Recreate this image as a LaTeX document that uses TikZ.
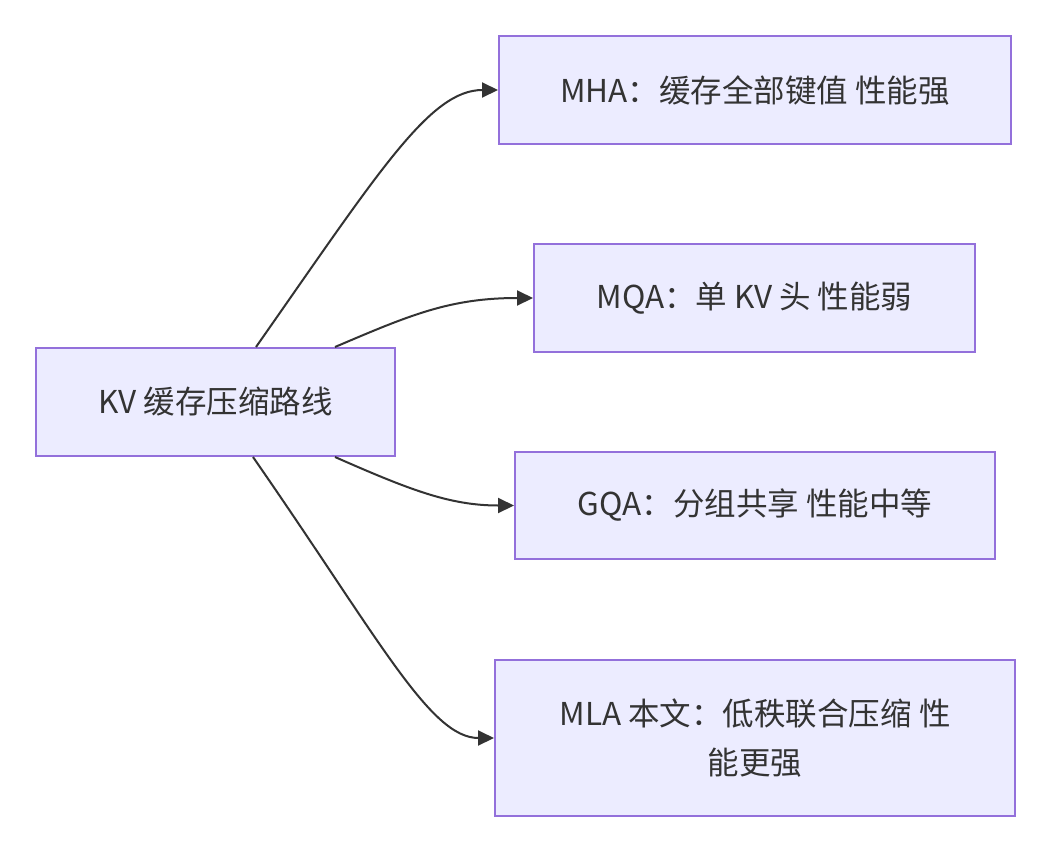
\documentclass[tikz,border=0pt]{standalone}
\usepackage{fontspec}
\setmainfont{Noto Sans CJK SC}
\usetikzlibrary{arrows.meta}
\definecolor{boxfill}{HTML}{ECECFF}
\definecolor{boxline}{HTML}{9370DB}
\definecolor{ink}{HTML}{333333}
\begin{document}
\begin{tikzpicture}[x=1pt,y=-1pt,
  box/.style={draw=boxline,fill=boxfill,line width=2pt,rectangle,inner sep=0pt,
    text=ink,font=\fontsize{31.5}{49}\selectfont,align=center},
  conn/.style={draw=ink,line width=2pt,-{Triangle[length=16pt,width=15pt]}}]
\useasboundingbox (0,0) rectangle (1052,852);
\fill[white] (0,0) rectangle (1052,852);
\node[box,minimum width=359pt,minimum height=108pt] (src) at (215.5,402) {KV 缓存压缩路线};
\node[box,minimum width=512pt,minimum height=108pt] (mha) at (755,90) {MHA：缓存全部键值 性能强};
\node[box,minimum width=441pt,minimum height=108pt] (mqa) at (754.5,298) {MQA：单 KV 头 性能弱};
\node[box,minimum width=480pt,minimum height=107pt] (gqa) at (755,505.5) {GQA：分组共享 性能中等};
\node[box,minimum width=520pt,minimum height=156pt] (mla) at (755,738) {MLA 本文：低秩联合压缩 性\\能更强};
\draw[conn] ([xshift=40.5pt]src.north) .. controls (380,170) and (430,90) .. (mha.west);
\draw[conn] ([xshift=119.5pt]src.north) .. controls (410,315) and (450,298) .. (mqa.west);
\draw[conn] ([xshift=119.5pt]src.south) .. controls (410,490) and (450,505.5) .. (gqa.west);
\draw[conn] ([xshift=37.5pt]src.south) .. controls (380,640) and (430,738) .. (mla.west);
\end{tikzpicture}
\end{document}
